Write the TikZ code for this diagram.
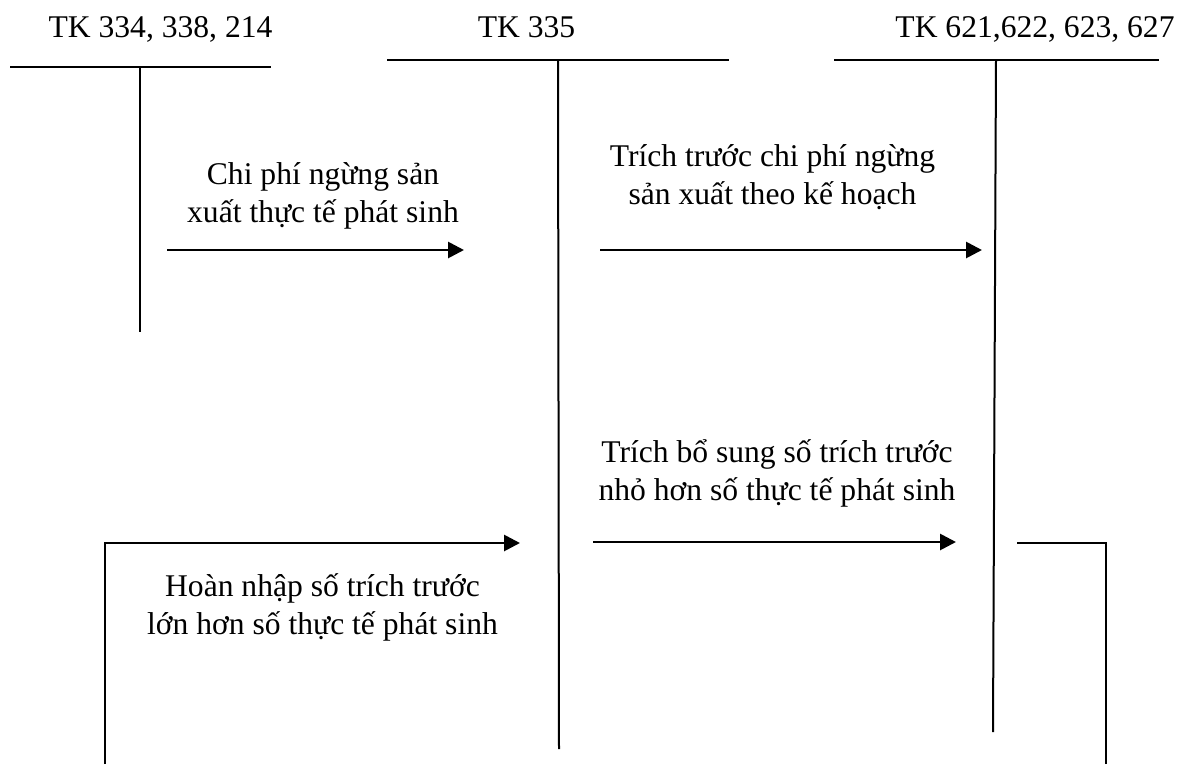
\documentclass[tikz,border=0pt]{standalone}
\usepackage{fontspec}
\setmainfont{Liberation Serif}
\usetikzlibrary{arrows.meta}
\begin{document}
\begin{tikzpicture}[x=1pt,y=-1pt,
  tline/.style={line width=2.2pt},
  vline/.style={line width=2pt},
  flow/.style={line width=2.8pt,-{Triangle[length=16pt,width=16pt]}},
  bracket/.style={line width=2.2pt},
  lbl/.style={font=\fontsize{31.6}{37.5}\selectfont,align=center,anchor=base,inner sep=0pt}
]
\useasboundingbox[fill=white] (0,0) rectangle (1179,764);

% account titles
\node[lbl] (tk1) at (160.5,37) {TK 334, 338, 214};
\node[lbl] (tk2) at (526.5,37) {TK 335};
\node[lbl] (tk3) at (1035,37) {TK 621,622, 623, 627};

% T-account end points
\coordinate (a1L) at (10,67);   \coordinate (a1R) at (271,67);
\coordinate (a1T) at (140,67);  \coordinate (a1B) at (140,332);
\coordinate (a2L) at (387,60);  \coordinate (a2R) at (729,60);
\coordinate (a2T) at (558,60);  \coordinate (a2B) at (559,749);
\coordinate (a3L) at (834,60);  \coordinate (a3R) at (1159,60);
\coordinate (a3T) at (996,60);  \coordinate (a3B) at (993,732);

\draw[tline] (a1L) -- (a1R);
\draw[vline] (a1T) -- (a1B);
\draw[tline] (a2L) -- (a2R);
\draw[vline] (a2T) -- (a2B);
\draw[tline] (a3L) -- (a3R);
\draw[vline] (a3T) -- (a3B);

% flow end points
\coordinate (f1s) at (167,250); \coordinate (f1e) at (464,250);
\coordinate (f2s) at (600,250); \coordinate (f2e) at (982,250);
\coordinate (f3s) at (593,542); \coordinate (f3e) at (956,542);
\coordinate (f4a) at (105,764); \coordinate (f4b) at (105,543); \coordinate (f4e) at (520,543);
\coordinate (f5a) at (1106,764); \coordinate (f5b) at (1106,543); \coordinate (f5e) at (1017,543);

\draw[flow] (f1s) -- (f1e);
\draw[flow] (f2s) -- (f2e);
\draw[flow] (f3s) -- (f3e);
\draw[bracket] (f4a) -- (f4b) -- ([xshift=-12pt]f4e);
\draw[flow] ([xshift=-14pt]f4e) -- (f4e);
\draw[bracket] (f5a) -- (f5b) -- (f5e);

% flow labels (base = last line's baseline)
\node[lbl] (t1) at (323,222) {Chi phí ngừng sản\\xuất thực tế phát sinh};
\node[lbl] (t2) at (772.5,204) {Trích trước chi phí ngừng\\sản xuất theo kế hoạch};
\node[lbl] (t3) at (777,500) {Trích bổ sung số trích trước\\nhỏ hơn số thực tế phát sinh};
\node[lbl] (t4) at (322.5,634) {Hoàn nhập số trích trước\\lớn hơn số thực tế phát sinh};
\end{tikzpicture}
\end{document}
